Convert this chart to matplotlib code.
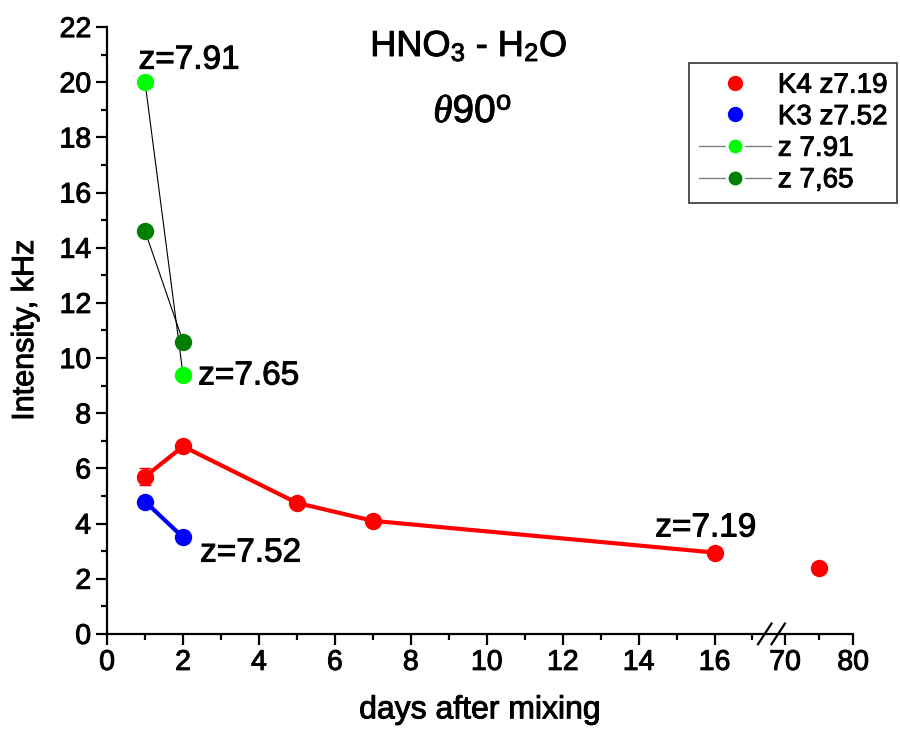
import numpy as np
import matplotlib
matplotlib.use("Agg")
import matplotlib.pyplot as plt
import matplotlib.patheffects as pe
from matplotlib.lines import Line2D

plt.rcParams["font.family"] = ["Liberation Sans", "DejaVu Sans"]
plt.rcParams["mathtext.fontset"] = "custom"
plt.rcParams["mathtext.rm"] = "Liberation Sans"
plt.rcParams["mathtext.it"] = "Liberation Serif:italic"

# -- data --
k4_days = [1, 2, 5, 7, 16]
k4_int = [5.7, 6.8, 4.75, 4.1, 2.95]
k4_err = [0.3, 0.1, 0.1, 0.1, 0.1]
k4_late_days = [75]
k4_late_int = [2.4]

k3_days = [1, 2]
k3_int = [4.8, 3.5]

z791_days = [1, 2]
z791_int = [20.0, 9.4]

z765_days = [1, 2]
z765_int = [14.6, 10.6]

# -- broken x axis: 0..17.5 linear, 68..80 compressed --
brk_lo, brk_hi, squeeze = 17.5, 68.0, 0.1794


def fwd(x):
    x = np.asarray(x, dtype=float)
    return np.where(x <= brk_lo, x,
                    np.where(x >= brk_hi, brk_lo + (x - brk_hi) * squeeze, brk_lo))


def inv(y):
    y = np.asarray(y, dtype=float)
    return np.where(y <= brk_lo, y, brk_hi + (y - brk_lo) / squeeze)


heavy = [pe.withStroke(linewidth=0.7, foreground="black")]

fig = plt.figure(figsize=(9, 7.32), dpi=100)
ax = fig.add_axes([0.119, 0.134, 0.829, 0.829])
ax.set_xscale("function", functions=(fwd, inv))

ax.errorbar(k4_days, k4_int, yerr=k4_err, color="#ff0000", lw=3, marker="o",
            ms=11.5, capsize=4, elinewidth=1, capthick=1, zorder=3)
ax.plot(k4_late_days, k4_late_int, "o", color="#ff0000", ms=11.5, zorder=3)
ax.plot(k3_days, k3_int, "-o", color="#0000ff", lw=3, ms=11.5, zorder=3)
ax.plot(z791_days, z791_int, "-", color="black", lw=0.8, zorder=2)
ax.plot(z791_days, z791_int, "o", color="#00ff00", ms=11.5, zorder=3)
ax.plot(z765_days, z765_int, "-", color="black", lw=0.8, zorder=2)
ax.plot(z765_days, z765_int, "o", color="#007f00", ms=11.5, zorder=3)

ax.set_xlim(0, 80)
ax.set_ylim(0, 22)
ax.set_xticks(list(range(0, 17, 2)) + [70, 80])
ax.set_xticks(list(range(1, 18, 2)) + [75], minor=True)
ax.set_yticks(range(0, 23, 2))
ax.set_yticks(range(1, 22, 2), minor=True)
ax.tick_params(which="major", length=8, width=1.6, labelsize=20.5, direction="out")
ax.tick_params(which="minor", length=4.5, width=1.6, direction="out")
for lab in ax.get_xticklabels() + ax.get_yticklabels():
    lab.set_path_effects(heavy)

for side in ["top", "right"]:
    ax.spines[side].set_visible(False)
for side in ["left", "bottom"]:
    ax.spines[side].set_linewidth(1.6)

# break marks on the x axis
total = fwd(80)
xb = float(fwd(brk_lo)) / float(total)
for off in (-0.009, 0.009):
    ax.plot([xb + off - 0.009, xb + off + 0.009], [-0.017, 0.017],
            transform=ax.transAxes, color="black", lw=1.6, clip_on=False)

ax.set_xlabel("days after mixing", fontsize=23, labelpad=14, path_effects=heavy)
ax.set_ylabel("Intensity, kHz", fontsize=22, labelpad=14, path_effects=heavy)

for x, y, s in [(0.83, 20.8, "z=7.91"), (2.4, 9.35, "z=7.65"),
                (2.45, 2.93, "z=7.52"), (14.44, 3.84, "z=7.19")]:
    ax.text(x, y, s, fontsize=24, va="center", path_effects=heavy)

ax.text(0.485, 0.968, r"HNO$_3$ - H$_2$O", transform=ax.transAxes,
        fontsize=26, ha="center", va="center", path_effects=heavy)
ax.text(0.49, 0.86, r"$\theta$90$^{\mathrm{o}}$", transform=ax.transAxes,
        fontsize=28, ha="center", va="center", path_effects=heavy)

handles = [
    Line2D([], [], ls="none", marker="o", color="#ff0000", ms=10),
    Line2D([], [], ls="none", marker="o", color="#0000ff", ms=10),
    Line2D([], [], ls="-", lw=1, color="gray", marker="o", ms=12,
           markerfacecolor="#00ff00", markeredgecolor="white", markeredgewidth=2),
    Line2D([], [], ls="-", lw=1, color="gray", marker="o", ms=12,
           markerfacecolor="#007f00", markeredgecolor="white", markeredgewidth=2),
]
labels = ["K4 z7.19", "K3 z7.52", "z 7.91", "z 7,65"]
leg = ax.legend(handles, labels, loc="upper right", bbox_to_anchor=(1.059, 0.941),
                borderaxespad=0, fontsize=20, frameon=True, fancybox=False,
                edgecolor="black", handlelength=2.6, handletextpad=0.25,
                borderpad=0.35, labelspacing=0.2)
leg.get_frame().set_linewidth(1.2)
for t in leg.get_texts():
    t.set_path_effects(heavy)

fig.savefig("out.png", dpi=100)
